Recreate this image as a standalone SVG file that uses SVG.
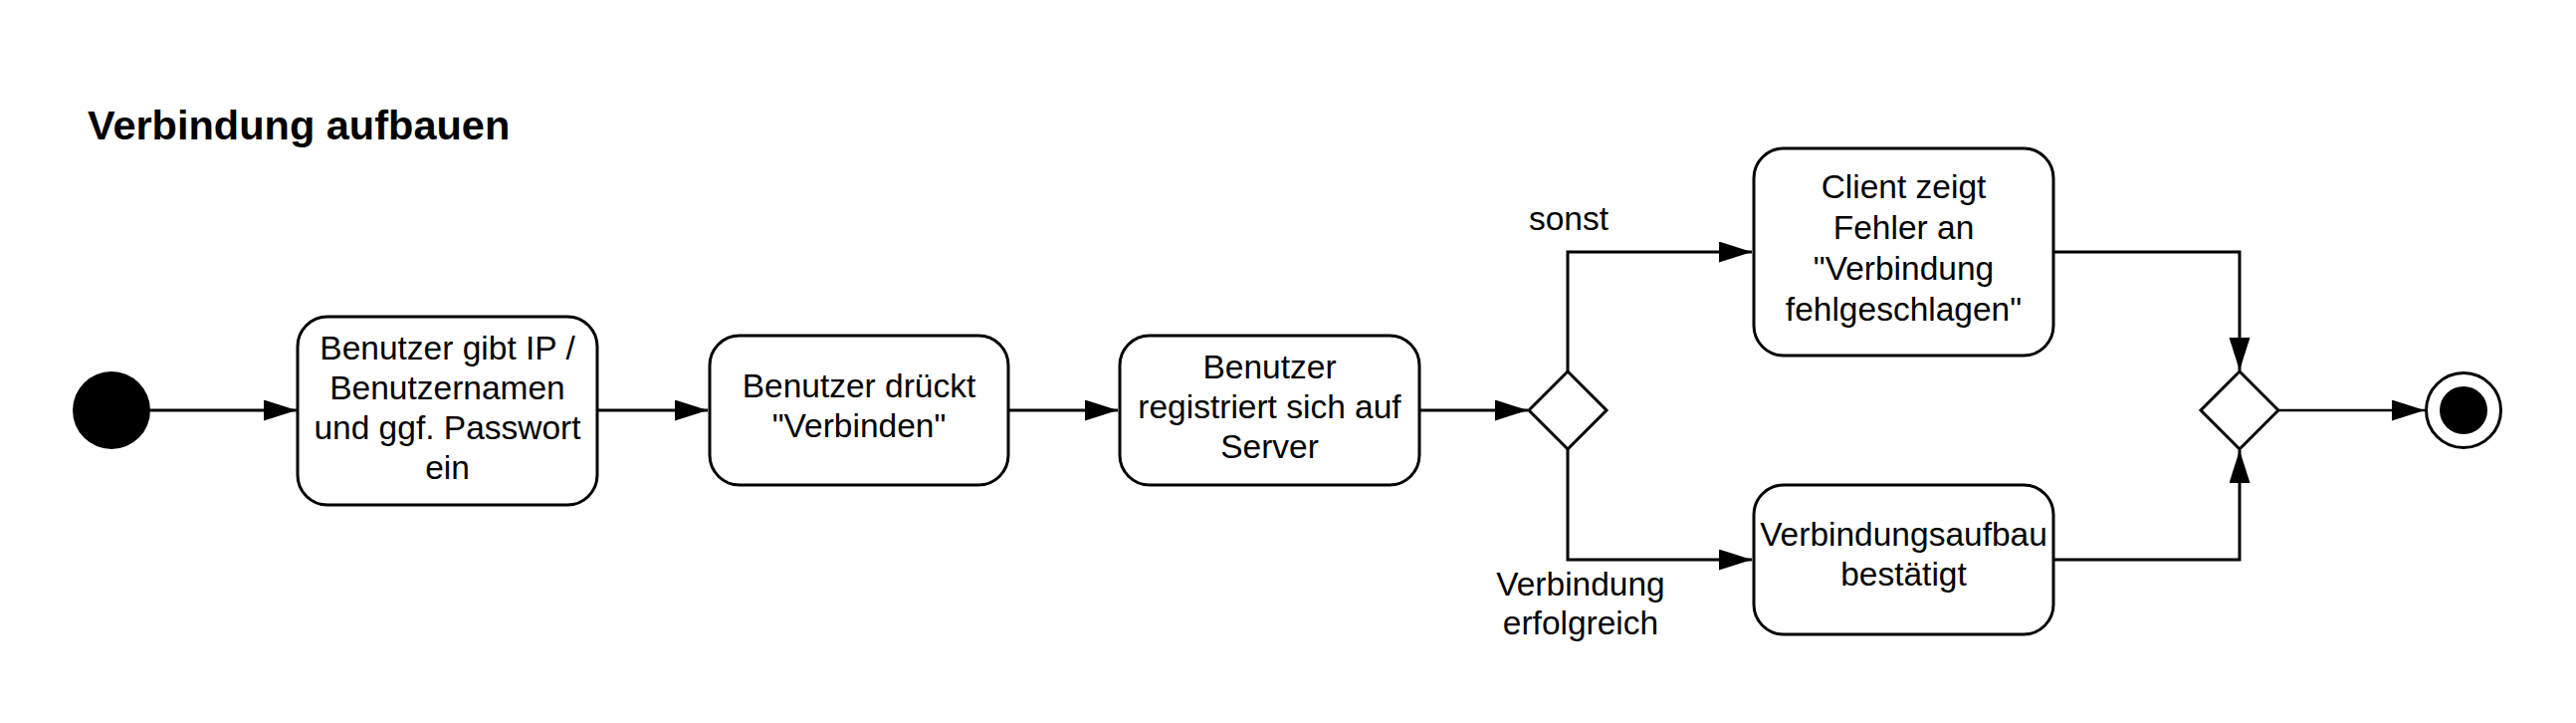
<svg xmlns="http://www.w3.org/2000/svg" width="2588" height="726" viewBox="0 0 2588 726">
<style>
.box{fill:#fff;stroke:#000;stroke-width:3}
.dia{fill:#fff;stroke:#000;stroke-width:3}
.t{font-family:"Liberation Sans",Arial,sans-serif;font-size:33.5px;fill:#000;text-anchor:middle}
.title{font-family:"Liberation Sans",Arial,sans-serif;font-size:41.5px;font-weight:bold;fill:#000}
.c{fill:none;stroke:#000;stroke-width:3}
.c2{fill:none;stroke:#000;stroke-width:2.3}
</style>
<defs>
<marker id="arr" markerUnits="userSpaceOnUse" markerWidth="34" markerHeight="22" refX="33" refY="10.5" orient="auto">
<path d="M0,0 L33,10.5 L0,21 z" fill="#000"/>
</marker>
</defs>
<rect width="2588" height="726" fill="#fff"/>
<text class="title" x="88" y="140">Verbindung aufbauen</text>
<g id="connectors">
<path class="c" d="M151,412 H298" marker-end="url(#arr)"/>
<path class="c" d="M600,412 H711" marker-end="url(#arr)"/>
<path class="c" d="M1013,412 H1123" marker-end="url(#arr)"/>
<path class="c" d="M1426,412 H1535" marker-end="url(#arr)"/>
<path class="c" d="M1575,373 V253 H1760" marker-end="url(#arr)"/>
<path class="c" d="M1575,451 V562 H1760" marker-end="url(#arr)"/>
<path class="c" d="M2063,253 H2250 V372" marker-end="url(#arr)"/>
<path class="c" d="M2063,562 H2250 V452" marker-end="url(#arr)"/>
<path class="c2" d="M2289,412 H2436" marker-end="url(#arr)"/>
<text class="t" x="1576" y="231">sonst</text>
<text class="t" x="1588" y="598">Verbindung</text>
<text class="t" x="1588" y="637">erfolgreich</text>
</g>
<g id="start">
<circle cx="112" cy="412" r="39" fill="#000"/>
</g>
<g id="n1">
<rect class="box" x="299" y="318" width="301" height="189" rx="30"/>
<text class="t" x="449.5" y="361">Benutzer gibt IP /</text>
<text class="t" x="449.5" y="401">Benutzernamen</text>
<text class="t" x="449.5" y="441">und ggf. Passwort</text>
<text class="t" x="449.5" y="481">ein</text>
</g>
<g id="n2">
<rect class="box" x="713" y="337" width="300" height="150" rx="30"/>
<text class="t" x="863" y="399">Benutzer drückt</text>
<text class="t" x="863" y="439">"Verbinden"</text>
</g>
<g id="n3">
<rect class="box" x="1125" y="337" width="301" height="150" rx="30"/>
<text class="t" x="1275.5" y="380">Benutzer</text>
<text class="t" x="1275.5" y="420">registriert sich auf</text>
<text class="t" x="1275.5" y="460">Server</text>
</g>
<g id="d1">
<polygon class="dia" points="1575,373 1614,412 1575,451 1536,412"/>
</g>
<g id="n4">
<rect class="box" x="1762" y="149" width="301" height="208" rx="30"/>
<text class="t" x="1912.5" y="199">Client zeigt</text>
<text class="t" x="1912.5" y="240">Fehler an</text>
<text class="t" x="1912.5" y="281">"Verbindung</text>
<text class="t" x="1912.5" y="322">fehlgeschlagen"</text>
</g>
<g id="n5">
<rect class="box" x="1762" y="487" width="301" height="150" rx="30"/>
<text class="t" x="1912.5" y="548">Verbindungsaufbau</text>
<text class="t" x="1912.5" y="588">bestätigt</text>
</g>
<g id="d2">
<polygon class="dia" points="2250,373 2289,412 2250,451 2211,412"/>
</g>
<g id="end">
<circle cx="2475" cy="412" r="37.5" fill="#fff" stroke="#000" stroke-width="3"/>
<circle cx="2475" cy="412" r="24" fill="#000"/>
</g>
</svg>
